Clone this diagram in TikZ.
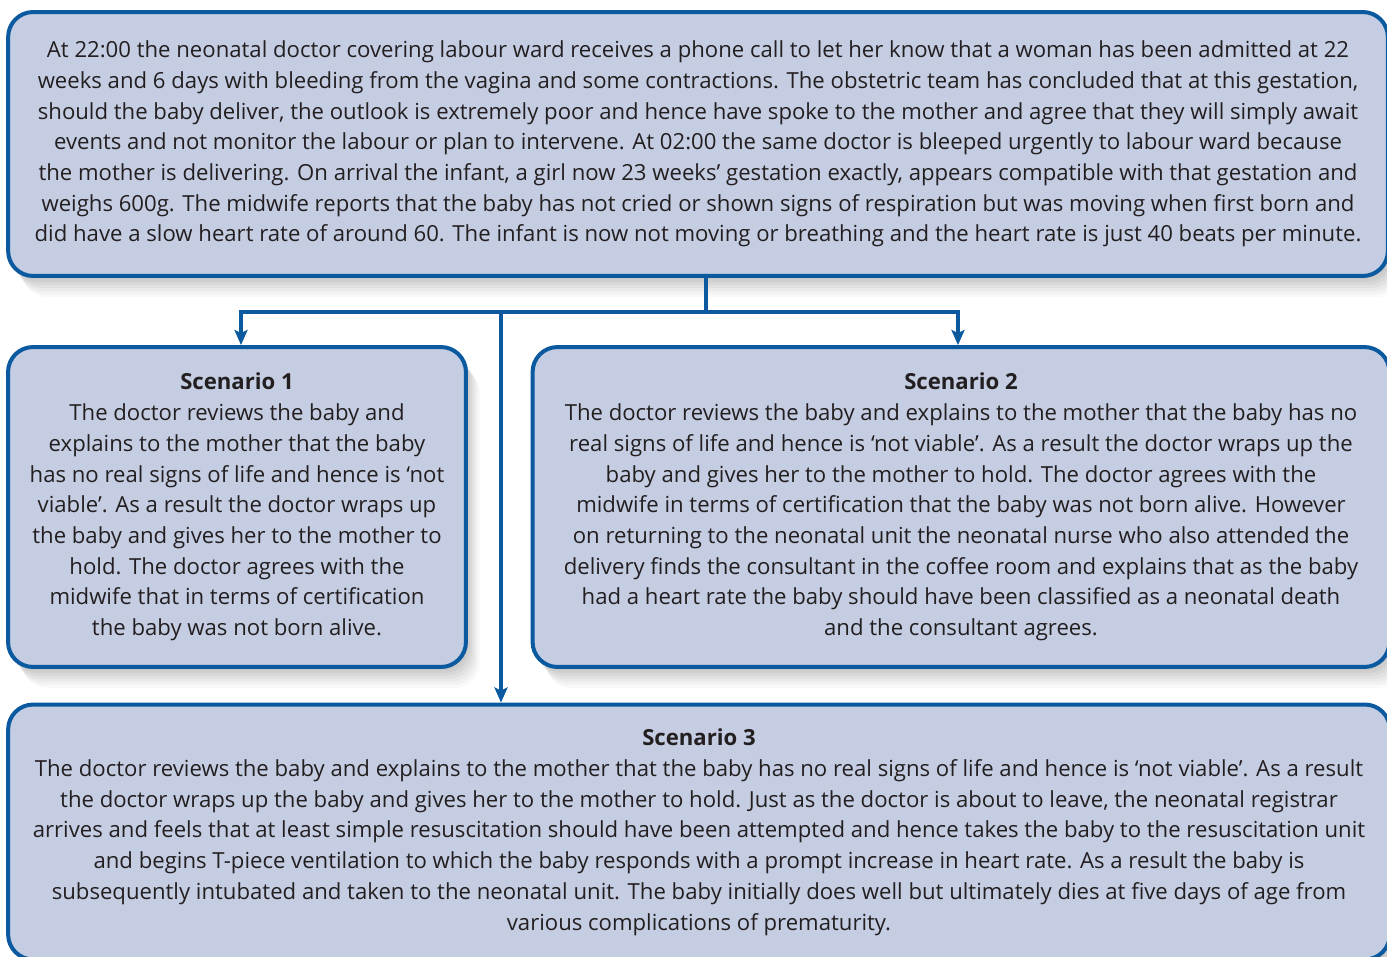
\documentclass[tikz,border=0pt]{standalone}
\usepackage{fontspec}
\setmainfont{Open Sans}
\usepackage{xcolor}
\usetikzlibrary{arrows.meta,shadows}
\definecolor{boxfill}{RGB}{197,205,227}
\definecolor{boxline}{RGB}{11,89,158}
\definecolor{inktext}{RGB}{35,31,32}

\begin{document}
\begin{tikzpicture}[x=0.02cm, y=-0.02cm,
    fuzzy/.style={
        drop shadow={shadow xshift=0.04cm, shadow yshift=-0.06cm, opacity=0.1},
        drop shadow={shadow xshift=0.08cm, shadow yshift=-0.12cm, opacity=0.1},
        drop shadow={shadow xshift=0.12cm, shadow yshift=-0.18cm, opacity=0.09},
        drop shadow={shadow xshift=0.16cm, shadow yshift=-0.24cm, opacity=0.08},
        drop shadow={shadow xshift=0.20cm, shadow yshift=-0.30cm, opacity=0.07},
        drop shadow={shadow xshift=0.24cm, shadow yshift=-0.36cm, opacity=0.06},
        drop shadow={shadow xshift=0.28cm, shadow yshift=-0.42cm, opacity=0.05}},
    panel/.style={fuzzy, draw=boxline, line width=0.08cm, fill=boxfill,
        rounded corners=0.5cm, align=center, text=inktext, inner sep=0pt,
        font=\fontsize{12.6}{17.5}\selectfont},
    link/.style={draw=boxline, line width=0.08cm},
    tip/.style={-{Stealth[length=0.3cm, width=0.26cm, inset=0.06cm]}}]
                \useasboundingbox (0,0) rectangle (1387,957);
                \clip (0,0) rectangle (1387,957);

                % Case history
                \node[panel, minimum width=27.6cm, minimum height=5.28cm] (history) at (698,144)
                    {At 22:00 the neonatal doctor covering labour ward receives a phone call to let her know that a woman has been admitted at 22\\
                     weeks and 6 days with bleeding from the vagina and some contractions. The obstetric team has concluded that at this gestation,\\
                     should the baby deliver, the outlook is extremely poor and hence have spoke to the mother and agree that they will simply await\\
                     events and not monitor the labour or plan to intervene. At 02:00 the same doctor is bleeped urgently to labour ward because\\
                     the mother is delivering. On arrival the infant, a girl now 23 weeks’ gestation exactly, appears compatible with that gestation and\\
                     weighs 600g. The midwife reports that the baby has not cried or shown signs of respiration but was moving when first born and\\
                     did have a slow heart rate of around 60. The infant is now not moving or breathing and the heart rate is just 40 beats per minute.};

                % Scenario 1
                \node[panel, minimum width=9.16cm, minimum height=6.4cm] (scen1) at (237,507)
                    {\textbf{Scenario 1}\\
                     The doctor reviews the baby and\\
                     explains to the mother that the baby\\
                     has no real signs of life and hence is ‘not\\
                     viable’. As a result the doctor wraps up\\
                     the baby and gives her to the mother to\\
                     hold. The doctor agrees with the\\
                     midwife that in terms of certification\\
                     the baby was not born alive.};

                % Scenario 2
                \node[panel, minimum width=17.14cm, minimum height=6.4cm] (scen2) at (961,507)
                    {\textbf{Scenario 2}\\
                     The doctor reviews the baby and explains to the mother that the baby has no\\
                     real signs of life and hence is ‘not viable’. As a result the doctor wraps up the\\
                     baby and gives her to the mother to hold. The doctor agrees with the\\
                     midwife in terms of certification that the baby was not born alive. However\\
                     on returning to the neonatal unit the neonatal nurse who also attended the\\
                     delivery finds the consultant in the coffee room and explains that as the baby\\
                     had a heart rate the baby should have been classified as a neonatal death\\
                     and the consultant agrees.};

                % Scenario 3
                \node[panel, minimum width=27.64cm, minimum height=5.1cm] (scen3) at (699,832)
                    {\textbf{Scenario 3}\\
                     The doctor reviews the baby and explains to the mother that the baby has no real signs of life and hence is ‘not viable’. As a result\\
                     the doctor wraps up the baby and gives her to the mother to hold. Just as the doctor is about to leave, the neonatal registrar\\
                     arrives and feels that at least simple resuscitation should have been attempted and hence takes the baby to the resuscitation unit\\
                     and begins T-piece ventilation to which the baby responds with a prompt increase in heart rate. As a result the baby is\\
                     subsequently intubated and taken to the neonatal unit. The baby initially does well but ultimately dies at five days of age from\\
                     various complications of prematurity.};

                % Branching connectors
                \coordinate (fork) at (706,312);
                \coordinate (drop) at (501,312);
                \draw[link] (history.south -| fork) -- (fork);
                \draw[link, tip] (fork) -| ([xshift=0.08cm]scen1.north);
                \draw[link, tip] (fork) -| ([xshift=-0.06cm]scen2.north);
                \draw[link, tip] (drop) -- (scen3.north -| drop);
            \end{tikzpicture}
\end{document}
